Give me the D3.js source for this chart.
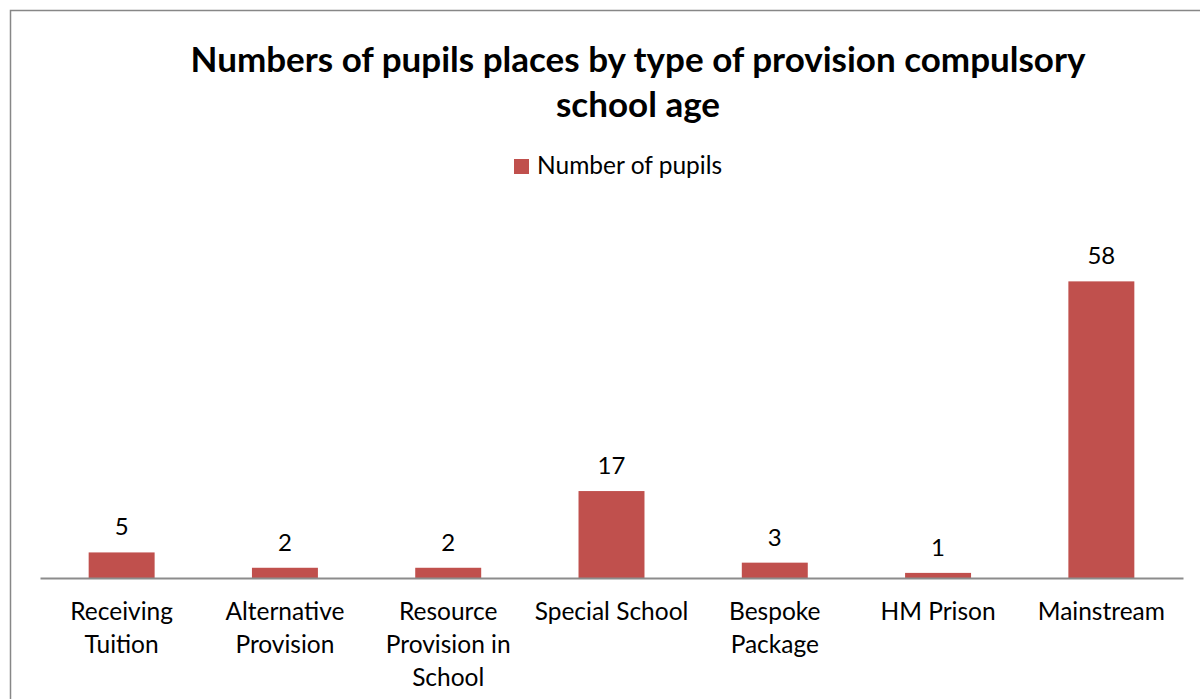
<!DOCTYPE html>
<html>
<head>
<meta charset="utf-8">
<script src="https://cdn.jsdelivr.net/npm/d3@7"></script>
<style>
  body { margin: 0; background: #fff; }
  svg { display: block; font-family: Lato, "Open Sans", sans-serif; }
</style>
</head>
<body>
<svg id="chart"></svg>
<script>
const categories = [
  ["Receiving", "Tuition"],
  ["Alternative", "Provision"],
  ["Resource", "Provision in", "School"],
  ["Special School"],
  ["Bespoke", "Package"],
  ["HM Prison"],
  ["Mainstream"]
];
const values = [5, 2, 2, 17, 3, 1, 58];
const seriesName = "Number of pupils";
const titleLines = ["Numbers of pupils places by type of provision compulsory", "school age"];

const width = 1200;
const height = 699;
const margin = { top: 220, right: 17, bottom: 121, left: 40 };
const barColor = "#c0504d";

const svg = d3.select("#chart")
    .attr("width", width)
    .attr("height", height);

// chart frame (runs off the right and bottom of the picture)
svg.append("rect")
    .attr("x", 10.5).attr("y", 10.5)
    .attr("width", 1200).attr("height", 700)
    .attr("fill", "none")
    .attr("stroke", "#878787")
    .attr("stroke-width", 1.5);

// title
svg.append("g").selectAll("text")
    .data(titleLines)
    .join("text")
    .attr("x", 638)
    .attr("y", (d, i) => 72 + i * 45)
    .attr("text-anchor", "middle")
    .attr("font-size", 35)
    .attr("font-weight", "bold")
    .attr("fill", "#000")
    .text(d => d);

// legend
const legend = svg.append("g").attr("transform", "translate(514,159)");
legend.append("rect").attr("width", 15).attr("height", 15).attr("fill", barColor);
legend.append("text")
    .attr("x", 23).attr("y", 15)
    .attr("font-size", 24.5)
    .attr("fill", "#000")
    .text(seriesName);

const x = d3.scaleBand()
    .domain(d3.range(values.length))
    .range([margin.left, width - margin.right])
    .paddingInner(0.596)
    .paddingOuter(0.298);

const y = d3.scaleLinear()
    .domain([0, 70])
    .range([height - margin.bottom, margin.top]);

// bars
svg.append("g").selectAll("rect")
    .data(values)
    .join("rect")
    .attr("x", (d, i) => x(i))
    .attr("y", d => y(d))
    .attr("width", x.bandwidth())
    .attr("height", d => y(0) - y(d))
    .attr("fill", barColor);

// value labels
svg.append("g").selectAll("text")
    .data(values)
    .join("text")
    .attr("x", (d, i) => x(i) + x.bandwidth() / 2)
    .attr("y", d => y(d) - 17)
    .attr("text-anchor", "middle")
    .attr("font-size", 24)
    .attr("fill", "#000")
    .text(d => d);

// x axis
const xAxis = svg.append("g")
    .attr("transform", `translate(0,${y(0)})`)
    .call(d3.axisBottom(x).tickSize(0).tickFormat(""));
xAxis.select(".domain").attr("stroke", "#8c8c8c").attr("stroke-width", 2);

// category labels (wrapped like the original)
const catLabels = svg.append("g").selectAll("text")
    .data(categories)
    .join("text")
    .attr("x", (d, i) => x(i) + x.bandwidth() / 2)
    .attr("y", y(0) + 42)
    .attr("text-anchor", "middle")
    .attr("font-size", 24.5)
    .attr("fill", "#000");
catLabels.selectAll("tspan")
    .data(d => d)
    .join("tspan")
    .attr("x", function () { return d3.select(this.parentNode).attr("x"); })
    .attr("dy", (d, i) => i === 0 ? 0 : 33)
    .text(d => d);
</script>
</body>
</html>
